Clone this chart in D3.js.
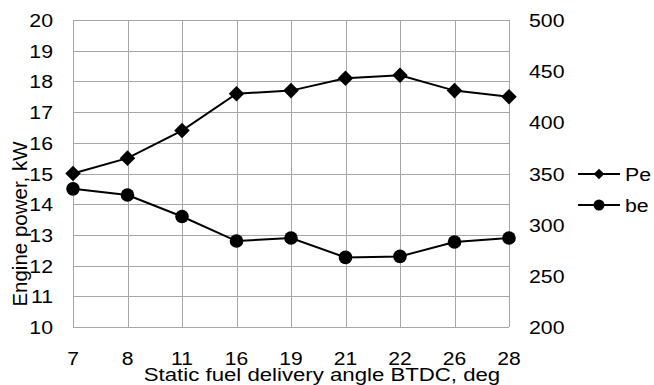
<!DOCTYPE html>
<html>
<head>
<meta charset="utf-8">
<script src="https://cdn.jsdelivr.net/npm/d3@7"></script>
<style>
  body { margin: 0; background: #fff; }
  svg text { font-family: "Liberation Sans", Arial, sans-serif; fill: #000; }
</style>
</head>
<body>
<div id="chart"></div>
<script>
// values
var angles = ["7", "8", "11", "16", "19", "21", "22", "26", "28"];
var pe = [15.0, 15.5, 16.4, 17.6, 17.7, 18.1, 18.2, 17.7, 17.5];
var be = [335, 329, 308, 284, 287, 268, 269, 283, 287];
var leftTicks = [10, 11, 12, 13, 14, 15, 16, 17, 18, 19, 20];
var rightTicks = [200, 250, 300, 350, 400, 450, 500];

var W = 654, H = 385;
var plot = {left: 73, right: 509, top: 20, bottom: 327};

var svg = d3.select("#chart").append("svg")
  .attr("width", W).attr("height", H);

var x = d3.scalePoint().domain(angles).range([plot.left, plot.right]);
var yL = d3.scaleLinear().domain([10, 20]).range([plot.bottom, plot.top]);
var yR = d3.scaleLinear().domain([200, 500]).range([plot.bottom, plot.top]);

/* grid */
var grid = svg.append("g").attr("stroke", "#a6a6a6").attr("stroke-width", 1);
grid.selectAll(".h").data(leftTicks).enter().append("line")
  .attr("x1", plot.left).attr("x2", plot.right)
  .attr("y1", function(d) { return Math.round(yL(d)) + 0.5; })
  .attr("y2", function(d) { return Math.round(yL(d)) + 0.5; });
grid.selectAll(".v").data(angles).enter().append("line")
  .attr("y1", plot.top).attr("y2", plot.bottom)
  .attr("x1", function(d) { return Math.round(x(d)) + 0.5; })
  .attr("x2", function(d) { return Math.round(x(d)) + 0.5; });

/* text helper: slightly wide glyphs like the original */
function label(txt, px, py, anchor, size, sx) {
  svg.append("text")
    .attr("transform", "translate(" + px + "," + py + ") scale(" + sx + ",1)")
    .attr("text-anchor", anchor)
    .style("font-size", size + "px")
    .text(txt);
}

leftTicks.forEach(function(d) { label(d, 53, yL(d) + 7, "end", 19, 1.12); });
rightTicks.forEach(function(d) { label(d, 529, yR(d) + 7, "start", 19, 1.12); });
angles.forEach(function(d) { label(d, x(d), 365, "middle", 18.5, 1.14); });

label("Static fuel delivery angle BTDC, deg", 322, 381, "middle", 18.5, 1.2);

svg.append("text")
  .attr("transform", "translate(27,224) rotate(-90)")
  .attr("text-anchor", "middle")
  .style("font-size", "20.5px")
  .text("Engine power,  kW");

/* series */
var line = d3.line();

svg.append("path")
  .attr("d", line(angles.map(function(a, i) { return [x(a), yL(pe[i])]; })))
  .attr("fill", "none").attr("stroke", "#000").attr("stroke-width", 2);
svg.append("path")
  .attr("d", line(angles.map(function(a, i) { return [x(a), yR(be[i])]; })))
  .attr("fill", "none").attr("stroke", "#000").attr("stroke-width", 2);

svg.selectAll(".pe").data(pe).enter().append("rect")
  .attr("width", 11).attr("height", 11)
  .attr("transform", function(d, i) {
    return "translate(" + x(angles[i]) + "," + yL(d) + ") rotate(45) translate(-5.5,-5.5)";
  });
svg.selectAll(".be").data(be).enter().append("circle")
  .attr("cx", function(d, i) { return x(angles[i]); })
  .attr("cy", function(d) { return yR(d); })
  .attr("r", 6.8);

/* legend */
var leg = [{name: "Pe", y: 174}, {name: "be", y: 205}];
leg.forEach(function(l, i) {
  svg.append("line").attr("x1", 578).attr("x2", 620)
    .attr("y1", l.y).attr("y2", l.y)
    .attr("stroke", "#000").attr("stroke-width", 2);
  if (i === 0) {
    svg.append("rect").attr("width", 7.5).attr("height", 7.5)
      .attr("transform", "translate(599," + l.y + ") rotate(45) translate(-3.75,-3.75)");
  } else {
    svg.append("circle").attr("cx", 599).attr("cy", l.y).attr("r", 5.5);
  }
  label(l.name, 625, l.y + 7, "start", 19, 1.12);
});
</script>
</body>
</html>
